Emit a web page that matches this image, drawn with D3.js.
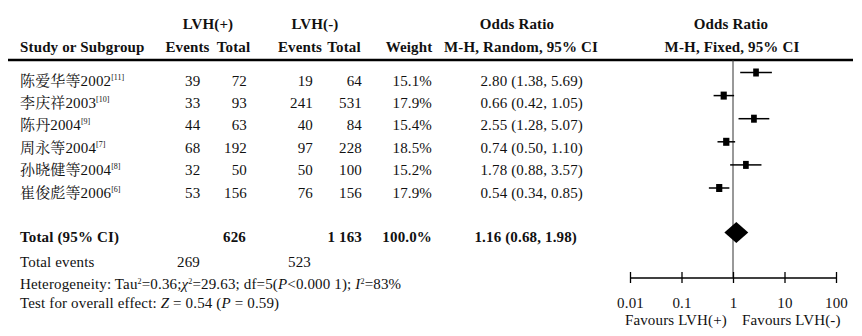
<!DOCTYPE html>
<html><head><meta charset="utf-8">
<script src="https://cdn.jsdelivr.net/npm/d3@7"></script>
<style>
html,body{margin:0;padding:0;background:#fff;}
svg{display:block;}
text{font-family:"Liberation Serif","Times New Roman","Noto Serif CJK SC","Noto Sans CJK SC",serif;font-size:15px;letter-spacing:0.15px;fill:#111;}
.b{font-weight:bold;}
</style></head><body>
<svg id="c" width="862" height="336"></svg>
<script>
const studies = ["陈爱华等2002","李庆祥2003","陈丹2004","周永等2004","孙晓健等2004","崔俊彪等2006"];
const refs = ["[11]","[10]","[9]","[7]","[8]","[6]"];
const eventsPos = [39,33,44,68,32,53];
const totalPos = [72,93,63,192,50,156];
const eventsNeg = [19,241,40,97,50,76];
const totalNeg = [64,531,84,228,100,156];
const weights = [15.1,17.9,15.4,18.5,15.2,17.9];
const orVal = [2.80,0.66,2.55,0.74,1.78,0.54];
const orLo = [1.38,0.42,1.28,0.50,0.88,0.34];
const orHi = [5.69,1.05,5.07,1.10,3.57,0.85];
const totalOR = [1.16,0.68,1.98];
const totalN = ["626","1 163"];
const totalEvents = ["269","523"];
const axisTicks = [0.01,0.1,1,10,100];

const svg = d3.select("#c");
const f2 = d3.format(".2f");
const f1 = d3.format(".1f");

// row scales
const yText = d3.scalePoint().domain(d3.range(studies.length)).range([85.5,197.5]);
const yForest = d3.scalePoint().domain(d3.range(studies.length)).range([72.5,188]);
const x = d3.scaleLog().domain([0.01,100]).range([630,836]);

// headers
const hdr = [
  {t:"LVH(+)", x:208, y:29},
  {t:"LVH(-)", x:315, y:29},
  {t:"Odds Ratio", x:517, y:29},
  {t:"Odds Ratio", x:731, y:29},
  {t:"Events", x:187.5, y:52},
  {t:"Total", x:233.5, y:52},
  {t:"Events", x:300, y:52},
  {t:"Total", x:344, y:52},
  {t:"Weight", x:409, y:52},
  {t:"M-H, Random, 95% CI", x:521, y:52},
  {t:"M-H, Fixed, 95% CI", x:732, y:52}
];
svg.selectAll("text.h").data(hdr).join("text").attr("class","h b")
  .attr("x",d=>d.x).attr("y",d=>d.y).attr("text-anchor","middle").text(d=>d.t);
svg.append("text").attr("class","b").attr("x",20).attr("y",52).text("Study or Subgroup");

svg.append("line").attr("x1",8).attr("x2",853).attr("y1",60).attr("y2",60)
  .attr("stroke","#000").attr("stroke-width",2.5);

// study rows
const rows = svg.append("g");
studies.forEach((s,i)=>{
  const y = yText(i);
  const t = rows.append("text").attr("x",20).attr("y",y);
  t.append("tspan").text(s);
  t.append("tspan").attr("dy",-6).style("font-size","8px").style("letter-spacing","0px").text(refs[i]);
  rows.append("text").attr("x",185).attr("y",y).text(eventsPos[i]);
  rows.append("text").attr("x",247).attr("y",y).attr("text-anchor","end").text(totalPos[i]);
  rows.append("text").attr("x",313).attr("y",y).attr("text-anchor","end").text(eventsNeg[i]);
  rows.append("text").attr("x",362).attr("y",y).attr("text-anchor","end").text(totalNeg[i]);
  rows.append("text").attr("x",432).attr("y",y).attr("text-anchor","end").text(f1(weights[i])+"%");
  rows.append("text").attr("x",583).attr("y",y).attr("text-anchor","end")
    .text(`${f2(orVal[i])} (${f2(orLo[i])}, ${f2(orHi[i])})`);
});

// total row
svg.append("text").attr("class","b").attr("x",20).attr("y",242).text("Total (95% CI)");
svg.append("text").attr("class","b").attr("x",246).attr("y",242).attr("text-anchor","end").text(totalN[0]);
svg.append("text").attr("class","b").attr("x",362).attr("y",242).attr("text-anchor","end").text(totalN[1]);
svg.append("text").attr("class","b").attr("x",432).attr("y",242).attr("text-anchor","end")
  .text(f1(d3.sum(weights))+"%");
svg.append("text").attr("class","b").attr("x",577).attr("y",242).attr("text-anchor","end")
  .text(`${f2(totalOR[0])} (${f2(totalOR[1])}, ${f2(totalOR[2])})`);

svg.append("text").attr("x",20).attr("y",267).text("Total events");
svg.append("text").attr("x",177).attr("y",267).text(totalEvents[0]);
svg.append("text").attr("x",288).attr("y",267).text(totalEvents[1]);

// heterogeneity
const het = svg.append("text").attr("x",20).attr("y",289);
het.append("tspan").text("Heterogeneity: Tau");
het.append("tspan").attr("dy",-5).style("font-size","8px").text("2");
het.append("tspan").attr("dy",5).text("=0.36;");
het.append("tspan").style("font-style","italic").text("χ");
het.append("tspan").attr("dy",-5).style("font-size","8px").text("2");
het.append("tspan").attr("dy",5).text("=29.63; df=5(");
het.append("tspan").style("font-style","italic").text("P");
het.append("tspan").text("<0.000 1); ");
het.append("tspan").style("font-style","italic").text("I");
het.append("tspan").attr("dy",-5).style("font-size","8px").text("2");
het.append("tspan").attr("dy",5).text("=83%");

const tst = svg.append("text").attr("x",20).attr("y",308);
tst.append("tspan").text("Test for overall effect: ");
tst.append("tspan").style("font-style","italic").text("Z");
tst.append("tspan").text(" = 0.54 (");
tst.append("tspan").style("font-style","italic").text("P");
tst.append("tspan").text(" = 0.59)");

// forest plot
const axisY = 277.5;
svg.append("line").attr("x1",x(1)).attr("x2",x(1)).attr("y1",60).attr("y2",axisY)
  .attr("stroke","#333").attr("stroke-width",1);

const fg = svg.append("g");
fg.selectAll("line.ci").data(d3.range(studies.length)).join("line").attr("class","ci")
  .attr("x1",i=>x(orLo[i])).attr("x2",i=>x(orHi[i]))
  .attr("y1",i=>yForest(i)).attr("y2",i=>yForest(i))
  .attr("stroke","#000").attr("stroke-width",1.5);
fg.selectAll("rect.sq").data(d3.range(studies.length)).join("rect").attr("class","sq")
  .attr("width",i=>6*Math.sqrt(weights[i]/17))
  .attr("height",8)
  .attr("x",i=>x(orVal[i]) - 3*Math.sqrt(weights[i]/17))
  .attr("y",i=>yForest(i)-4)
  .attr("fill","#000");

// diamond
const dy = 232.5, dh = 10.5;
svg.append("path").attr("fill","#000")
  .attr("d",`M${x(totalOR[1])},${dy} L${x(totalOR[0])},${dy-dh} L${x(totalOR[2])},${dy} L${x(totalOR[0])},${dy+dh} Z`);

// axis
const ax = svg.append("g").attr("transform",`translate(0,${axisY})`)
  .call(d3.axisBottom(x).tickValues(axisTicks).tickFormat(d=>String(d)).tickSizeOuter(0).tickSizeInner(5.5).tickPadding(14));
ax.select(".domain").attr("stroke","#000").attr("stroke-width",1.3);
ax.selectAll(".tick line").attr("stroke","#000").attr("stroke-width",1.3).attr("y1",-5.5);
ax.selectAll(".tick text").style("font-family",'"Liberation Serif",serif').style("font-size","15px").attr("fill","#111");

svg.append("text").attr("x",727).attr("y",325).attr("text-anchor","end").text("Favours LVH(+)");
svg.append("text").attr("x",742).attr("y",325).text("Favours LVH(-)");
</script>
</body></html>
